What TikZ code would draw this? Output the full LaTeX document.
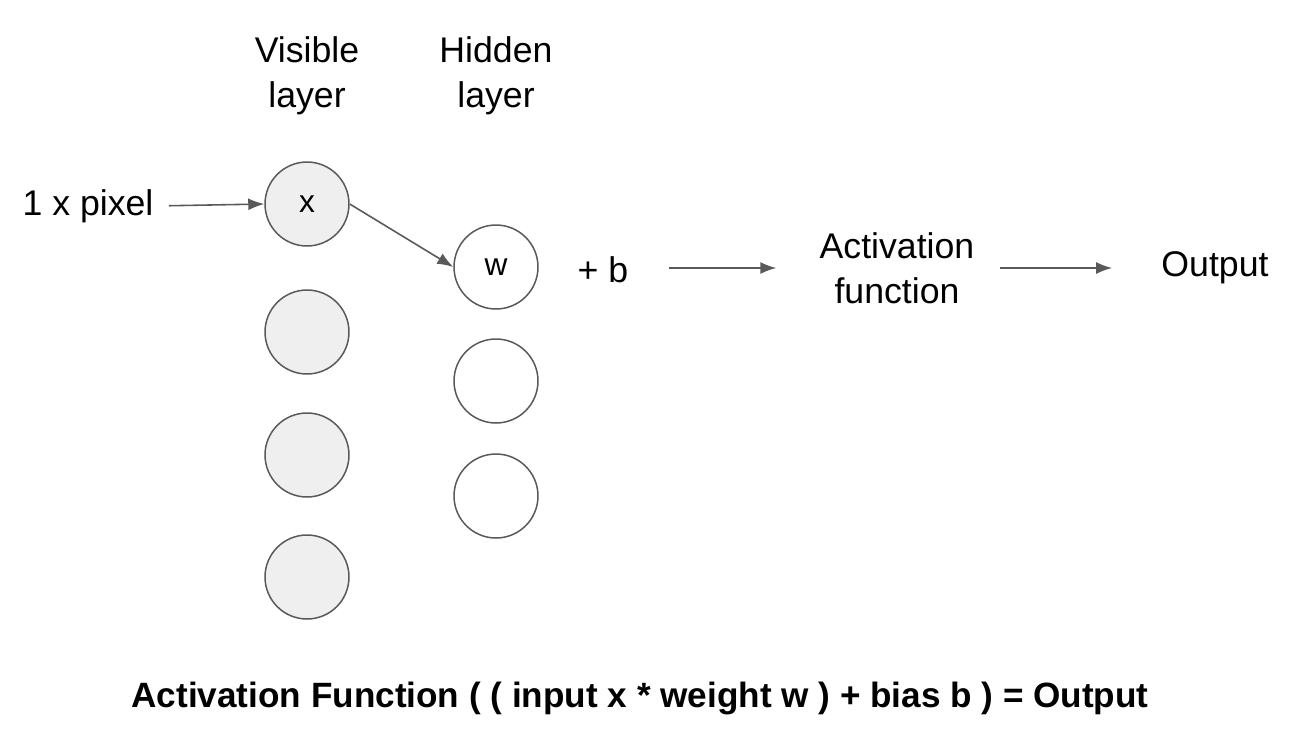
\documentclass[tikz,border=0pt]{standalone}
\usepackage{fontspec}
\setmainfont{Liberation Sans}
\definecolor{edgegray}{RGB}{89, 89, 89}
\definecolor{unitfill}{RGB}{239, 239, 239}
\usetikzlibrary{arrows.meta, positioning}

\begin{document}
\begin{tikzpicture}[
  x=0.02cm, y=-0.02cm,
  unit/.style={draw=edgegray, line width=0.85pt, circle, minimum size=1.68cm, inner sep=0pt, font=\fontsize{18}{21}\selectfont},
  vis/.style={unit, fill=unitfill},
  hid/.style={unit, fill=white},
  lbl/.style={align=center, font=\fontsize{20.3}{25.5}\selectfont, inner sep=0pt},
  flow/.style={draw=edgegray, line width=0.9pt, -{Latex[length=0.32cm, width=0.24cm]}}
]
  \useasboundingbox (0,0) rectangle (1294,752);

  \node[lbl] (vislbl) at (307,76) {Visible\\layer};
  \node[lbl] (hidlbl) at (496,76) {Hidden\\layer};

  \node[vis] (v1) at (307,204) {x};
  \node[vis] (v2) at (307,332) {};
  \node[vis] (v3) at (307,455) {};
  \node[vis] (v4) at (307,577) {};

  \node[hid] (h1) at (496,267) {w};
  \node[hid] (h2) at (496,381) {};
  \node[hid] (h3) at (496,496) {};

  \node[lbl] (pix) at (88,206) {1 x pixel};
  \node[lbl] (bias) at (603,270) {+ b};
  \node[lbl] (act) at (897,268) {Activation\\function};
  \node[lbl] (out) at (1215,268) {Output};

  \draw[flow, shorten <=0.3cm] (pix.east) -- (v1.west);
  \draw[flow] (v1.east) -- (h1.west);
  \draw[flow, shorten <=0.8cm, shorten >=0.86cm] (bias.east |- act) -- (act.west);
  \draw[flow, shorten <=0.5cm, shorten >=0.98cm] (act.east) -- (out.west);

  \node[font=\bfseries\fontsize{20}{24}\selectfont] (formula) at (640,698)
    {Activation Function ( ( input x * weight w ) + bias b ) = Output};
\end{tikzpicture}
\end{document}
